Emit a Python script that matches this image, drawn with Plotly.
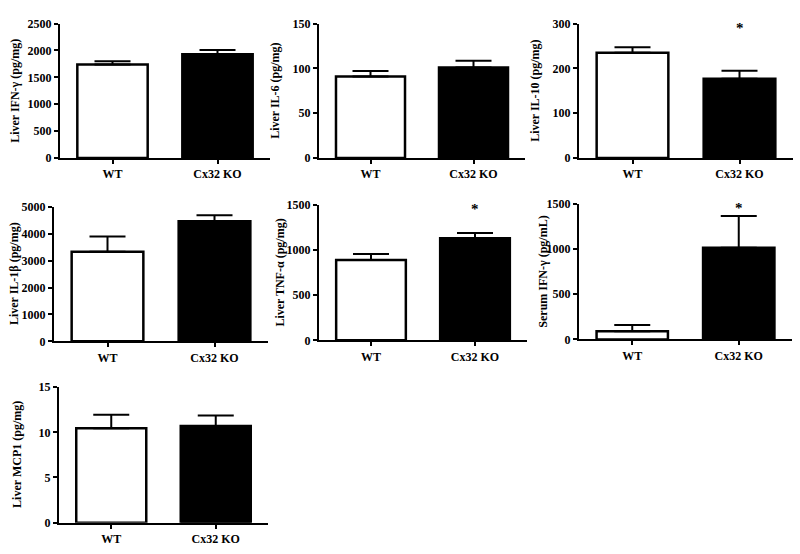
import plotly.graph_objects as go

# ---- data ----
groups = ["WT", "Cx32 KO"]
titles = [
    "Liver IFN-γ (pg/mg)",
    "Liver IL-6 (pg/mg)",
    "Liver IL-10 (pg/mg)",
    "Liver IL-1β (pg/mg)",
    "Liver TNF-α (pg/mg)",
    "Serum IFN-γ (pg/mL)",
    "Liver MCP1 (pg/mg)",
]
ifng_mean = [1740, 1930]
ifng_err = [60, 80]
il6_mean = [91, 101]
il6_err = [6, 7.5]
il10_mean = [235, 177]
il10_err = [12, 18]
il1b_mean = [3330, 4460]
il1b_err = [570, 230]
tnfa_mean = [890, 1130]
tnfa_err = [65, 58]
serum_ifng_mean = [90, 1015]
serum_ifng_err = [70, 350]
mcp1_mean = [10.45, 10.7]
mcp1_err = [1.5, 1.15]

means = [ifng_mean, il6_mean, il10_mean, il1b_mean, tnfa_mean, serum_ifng_mean, mcp1_mean]
errs = [ifng_err, il6_err, il10_err, il1b_err, tnfa_err, serum_ifng_err, mcp1_err]
y_max = [2500, 150, 300, 5000, 1500, 1500, 15]
y_dtick = [500, 50, 100, 1000, 500, 500, 5]
significant_ko = [False, False, True, False, True, True, False]

# ---- layout geometry (pixels) ----
W, H = 800, 554
panels_px = [
    (60, 270, 17, 155),
    (319, 525, 17, 155),
    (579, 793, 17, 155),
    (54, 268, 205, 343),
    (319, 527, 203, 342),
    (579, 792, 202, 341),
    (59, 268, 390, 529),
]
title_x_px = [15, 275, 535, 14, 280, 543, 17]

SERIF = "Liberation Serif"
fig = go.Figure()
layout = dict(
    width=W, height=H,
    margin=dict(l=0, r=0, t=0, b=0),
    paper_bgcolor="white", plot_bgcolor="white",
    showlegend=False,
    annotations=[],
)

for i in range(7):
    n = "" if i == 0 else str(i + 1)
    x0, x1, yt, yb = panels_px[i]
    fig.add_trace(go.Bar(
        x=[0, 1], y=means[i],
        width=0.67,
        marker=dict(color=["white", "black"], line=dict(color="black", width=2.5)),
        error_y=dict(type="data", symmetric=False, array=errs[i],
                     arrayminus=[0, 0], color="black", thickness=2, width=18),
        xaxis="x" + n, yaxis="y" + n,
    ))
    layout["xaxis" + n] = dict(
        domain=[x0 / W, x1 / W], anchor="y" + n,
        range=[-0.5, 1.5], tickvals=[0, 1], ticktext=groups,
        showline=True, linecolor="black", linewidth=2,
        ticks="outside", ticklen=4, tickwidth=2, tickcolor="black",
        showgrid=False, zeroline=False, fixedrange=True,
        tickfont=dict(family=SERIF, size=12, color="black", weight="bold"),
    )
    layout["yaxis" + n] = dict(
        domain=[1 - yb / H, 1 - yt / H], anchor="x" + n,
        range=[0, y_max[i]], dtick=y_dtick[i],
        showline=True, linecolor="black", linewidth=2,
        ticks="outside", ticklen=4, tickwidth=2, tickcolor="black",
        showgrid=False, zeroline=False, fixedrange=True,
        tickfont=dict(family=SERIF, size=12, color="black", weight="bold"),
    )
    layout["annotations"].append(dict(
        text="<b>" + titles[i] + "</b>", textangle=-90,
        x=title_x_px[i] / W, y=1 - (yt + yb) / 2 / H,
        xref="paper", yref="paper", xanchor="center", yanchor="middle",
        showarrow=False, font=dict(family=SERIF, size=12, color="black"),
    ))
    if significant_ko[i]:
        layout["annotations"].append(dict(
            text="<b>*</b>", x=1, y=0.97,
            xref="x" + n, yref="y" + n + " domain",
            xanchor="center", yanchor="middle", showarrow=False,
            font=dict(family=SERIF, size=15, color="black"),
        ))

fig.update_layout(**layout)
fig.write_html(
    "out.html",
    config={"displayModeBar": False},
    post_script="document.body.style.margin='0';document.body.style.padding='0';document.body.style.overflow='hidden';",
)
